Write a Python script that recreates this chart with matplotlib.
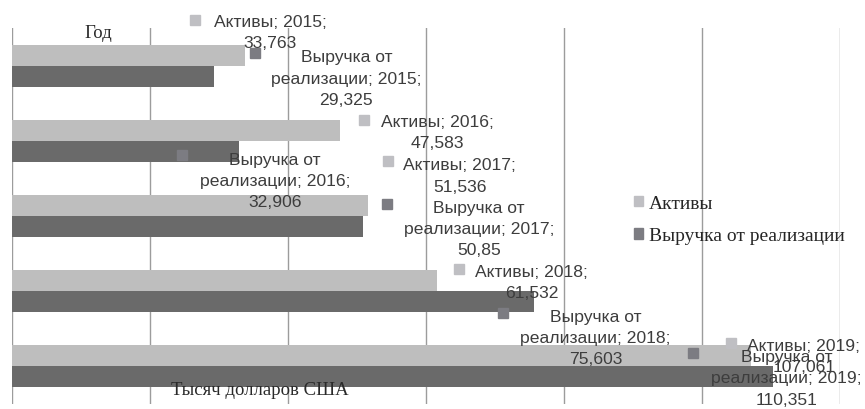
import numpy as np
import matplotlib.pyplot as plt
from matplotlib.transforms import offset_copy

years = ["2015", "2016", "2017", "2018", "2019"]
assets = [33.763, 47.583, 51.536, 61.532, 107.061]
revenue = [29.325, 32.906, 50.85, 75.603, 110.351]

series_names = ["Активы", "Выручка от реализации"]
series_label_names = ["Активы", "Выручка от\nреализации"]

# label placement, pixels from the end of each bar: (text dx, text dy, key dx, key dy)
assets_offsets = [(25, 23, -50, 35), (97, -2, 24, 10), (92, 30, 20, 44),
                  (95, -1, 22, 12), (53, 0, -20, 13)]
revenue_offsets = [(132, -2, 41, 23), (36, -29, -57, -4), (116, -2, 24, 23),
                   (62, -36, -31, -11), (13, -1, -80, 24)]

BAR_LIGHT = "#bebebe"
BAR_DARK = "#6a6a6a"
KEY_LIGHT = "#bfbfc3"
KEY_DARK = "#7c7c82"
LABEL_COLOR = "#3d3d3d"
SANS = "Liberation Sans"
SERIF = "Liberation Serif"

fig = plt.figure(figsize=(8.65, 4.10), dpi=100)
ax = fig.add_axes([12 / 865, 5 / 410, 828 / 865, 376 / 410])

y = np.arange(len(years))
h = 0.28
b1 = ax.barh(y - h / 2, assets, height=h, color=BAR_LIGHT, label=series_names[0])
b2 = ax.barh(y + h / 2, revenue, height=h, color=BAR_DARK, label=series_names[1])

ax.set_xlim(0, 120)
ax.set_ylim(len(years) - 0.5, -0.5)
ax.set_xticks(np.arange(0, 121, 20))
ax.set_yticks([])
ax.tick_params(axis="x", length=0, labelbottom=False)
ax.grid(axis="x", color="#9c9c9c", linewidth=1.0)
ax.set_axisbelow(True)
for s in ax.spines.values():
    s.set_visible(False)


def fmt(v):
    return str(v).replace(".", ",")


def add_labels(values, ypos, name, offsets, key_color):
    for yr, v, yy, (tx, ty, kx, ky) in zip(years, values, ypos, offsets):
        ax.annotate(f"{name}; {yr};\n{fmt(v)}", xy=(v, yy), xytext=(tx, ty),
                    textcoords="offset pixels", ha="center", va="center",
                    fontsize=12.6, family=SANS, color=LABEL_COLOR,
                    linespacing=1.52, zorder=5)
        tr = offset_copy(ax.transData, fig=fig, x=kx, y=ky, units="dots")
        ax.plot([v], [yy], marker="s", markersize=7, color=key_color,
                linestyle="none", transform=tr, clip_on=False, zorder=4)


add_labels(assets, y - h / 2, series_label_names[0], assets_offsets, KEY_LIGHT)
add_labels(revenue, y + h / 2, series_label_names[1], revenue_offsets, KEY_DARK)

fig.text(98 / 865, 1 - 34 / 410, "Год", ha="center", va="center",
         family=SERIF, fontsize=13.5, color="#2a2a2a")
fig.text(260 / 865, 1 - 391 / 410, "Тысяч долларов США", ha="center", va="center",
         family=SERIF, fontsize=13.5, color="#2a2a2a")

leg_handles = [plt.Rectangle((0, 0), 1, 1, color=KEY_LIGHT),
               plt.Rectangle((0, 0), 1, 1, color=KEY_DARK)]
ax.legend(leg_handles, series_names, loc="upper left",
          bbox_to_anchor=(634 / 865, 1 - 196 / 410), bbox_transform=fig.transFigure,
          frameon=False, borderpad=0, borderaxespad=0,
          handlelength=0.47, handleheight=0.47, handletextpad=0.28,
          labelspacing=0.78, prop={"family": SERIF, "size": 14},
          labelcolor="#262626")

fig.savefig("out.png", dpi=100)
